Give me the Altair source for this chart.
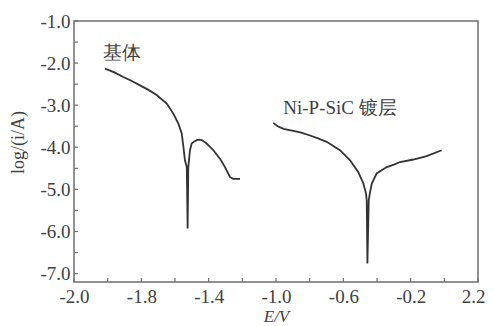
import altair as alt
import pandas as pd

# substrate (基体) polarization curve
sub_E = [-2.016, -1.960, -1.907, -1.860, -1.808, -1.760, -1.709, -1.649, -1.610, -1.580,
         -1.560, -1.550, -1.541, -1.530, -1.525, -1.521, -1.511, -1.501, -1.485, -1.471,
         -1.456, -1.441, -1.412, -1.372, -1.333, -1.303, -1.273, -1.254, -1.214]
sub_logi = [-2.13, -2.22, -2.33, -2.42, -2.53, -2.63, -2.76, -2.96, -3.20, -3.44,
            -3.67, -3.99, -4.31, -4.47, -5.93, -4.47, -4.07, -3.91, -3.86, -3.83,
            -3.82, -3.83, -3.91, -4.07, -4.27, -4.47, -4.71, -4.75, -4.75]

# Ni-P-SiC coating curve
coat_E = [-1.016, -0.990, -0.956, -0.897, -0.850, -0.798, -0.750, -0.699, -0.620, -0.560,
          -0.511, -0.481, -0.465, -0.461, -0.457, -0.449, -0.441, -0.431, -0.402, -0.342,
          -0.300, -0.263, -0.184, -0.105, -0.016]
coat_logi = [-3.42, -3.50, -3.56, -3.61, -3.65, -3.72, -3.79, -3.87, -4.07, -4.31,
             -4.59, -4.86, -5.10, -5.26, -6.76, -5.26, -5.06, -4.86, -4.62, -4.47,
             -4.41, -4.35, -4.29, -4.21, -4.07]

x_tick_values = [-2.2, -2.0, -1.8, -1.6, -1.4, -1.2, -1.0, -0.8, -0.6, -0.4, -0.2, 0.0, 0.2]
x_tick_labels = ["-2.0", "", "-1.8", "", "-1.4", "", "-1.0", "", "-0.6", "", "-0.2", "", "2.2"]
y_tick_values = [-7.0, -6.5, -6.0, -5.5, -5.0, -4.5, -4.0, -3.5, -3.0, -2.5, -2.0, -1.5, -1.0]
y_tick_labels = ["-7.0", "", "-6.0", "", "-5.0", "", "-4.0", "", "-3.0", "", "-2.0", "", "-1.0"]

ann_text = ["基体", "Ni-P-SiC 镀层"]
ann_E = [-1.915, -0.62]
ann_logi = [-1.77, -3.07]

W, H = 404, 261
FONT = "serif"
LINE = "#333333"
FRAME = "#6f6f6f"
TEXT = "#404040"


def label_expr(vals, labs):
    expr = "''"
    for v, l in reversed(list(zip(vals, labs))):
        expr = f"(abs(datum.value - ({v})) < 0.001 ? '{l}' : {expr})"
    return expr


rows = []
for i, (e, l) in enumerate(zip(sub_E, sub_logi)):
    rows.append({"E": e, "logi": l, "series": "sub", "i": i})
for i, (e, l) in enumerate(zip(coat_E, coat_logi)):
    rows.append({"E": e, "logi": l, "series": "coat", "i": i})
df = pd.DataFrame(rows)

xscale = alt.Scale(domain=[-2.2, 0.2], nice=False, zero=False)
yscale = alt.Scale(domain=[-7.2, -1.0], nice=False, zero=False)

last_x = x_tick_values[-1]
xaxis = alt.Axis(values=x_tick_values, labelExpr=label_expr(x_tick_values, x_tick_labels),
                 tickSize=0, domain=False, grid=False, labelPadding=5,
                 labelFont=FONT, labelFontSize=19, labelColor=TEXT,
                 labelAlign={"condition": {"test": f"datum.value > {last_x - 0.05}", "value": "right"},
                             "value": "center"},
                 labelOffset={"condition": {"test": f"datum.value > {last_x - 0.05}", "value": 7},
                              "value": 0},
                 title="E/V", titleFont=FONT, titleFontSize=17, titleColor=TEXT,
                 titleFontWeight="normal", titleFontStyle="italic", titleBaseline="top", titleY=26,
                 labelFlush=False, labelOverlap=False)
yaxis = alt.Axis(values=y_tick_values, labelExpr=label_expr(y_tick_values, y_tick_labels),
                 tickSize=0, domain=False, grid=False, labelPadding=4,
                 labelFont=FONT, labelFontSize=19, labelColor=TEXT,
                 title="log/(i/A)", titleFont=FONT, titleFontSize=18, titleColor=TEXT,
                 titleFontWeight="normal", titleX=-56, titleY=121, titleAlign="center",
                 titleBaseline="middle", labelFlush=False, labelOverlap=False)

lines = alt.Chart(df).mark_line(color=LINE, strokeWidth=1.8, interpolate="linear").encode(
    x=alt.X("E:Q", scale=xscale, axis=xaxis),
    y=alt.Y("logi:Q", scale=yscale, axis=yaxis),
    detail="series:N",
    order="i:Q",
)

xt = alt.Chart(pd.DataFrame({"E": x_tick_values})).mark_rule(color=FRAME, strokeWidth=1.2).encode(
    x=alt.X("E:Q", scale=xscale, axis=xaxis),
    y=alt.value(H), y2=alt.value(H - 4),
)
yt = alt.Chart(pd.DataFrame({"logi": y_tick_values})).mark_rule(color=FRAME, strokeWidth=1.2).encode(
    y=alt.Y("logi:Q", scale=yscale, axis=yaxis),
    x=alt.value(0), x2=alt.value(4),
)

ann = alt.Chart(pd.DataFrame({"t": ann_text, "E": ann_E, "logi": ann_logi})).mark_text(
    font=FONT, fontSize=19, color=TEXT, align="center", baseline="middle"
).encode(
    x=alt.X("E:Q", scale=xscale, axis=xaxis),
    y=alt.Y("logi:Q", scale=yscale, axis=yaxis),
    text="t:N",
)

chart = alt.layer(lines, xt, yt, ann).properties(
    width=W, height=H,
    autosize=alt.AutoSizeParams(type="none"),
    padding={"left": 66, "top": 13, "right": 8, "bottom": 44},
    background="white",
).configure_view(stroke=FRAME, strokeWidth=1.5)

chart.save("out.html", embed_options={"renderer": "svg", "actions": False})
